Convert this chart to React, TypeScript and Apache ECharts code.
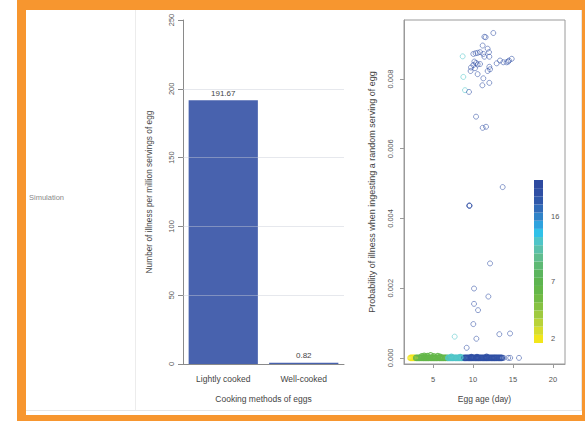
import React, { useEffect, useRef } from 'react';
import * as echarts from 'echarts';

// ---------- Bar chart data ----------
const cookingMethods = ['Lightly cooked', 'Well-cooked'];
const illnessPerMillion = [191.67, 0.82];
const barTicks = [0, 50, 100, 150, 200, 250];
const barGridLines = [50, 100, 150, 200];

// ---------- Scatter data ----------
const ageTicks = [5, 10, 15, 20];
const probTicks = [0, 0.002, 0.004, 0.006, 0.008];

// colour bar, bottom to top
const colorbarColors = [
  '#f2e61b', '#d6dd2e', '#b9d338', '#9fca3f', '#86c242', '#72bb45', '#64b749',
  '#5db44f', '#5cb55e', '#5eb974', '#60bd8e', '#5cc1aa', '#4fc5c8', '#30c1e8',
  '#2ea2de', '#3083c8', '#316bb8', '#2f58aa', '#2f4fa4', '#2e4aa0',
];
const colorbarLabels = ['2', '', '', '', '', '', '', '7', '', '', '', '', '', '', '', '16', '', '', '', ''];

// levels used for the points (index in colorbarColors)
const yellowBandAges = [2.2, 2.33, 2.48, 2.62, 2.75];
const greenBandAges = [
  2.9, 3.04, 3.2, 3.34, 3.5, 3.63, 3.78, 3.9, 4.06, 4.2, 4.35, 4.48, 4.63, 4.77,
  4.9, 5.06, 5.2, 5.35, 5.48, 5.62, 5.78, 5.9, 6.05, 6.2, 6.34, 6.5, 6.62, 6.78,
];
const cyanBandAges = [6.92, 7.05, 7.2, 7.35, 7.48, 7.62, 7.78, 7.9, 8.05, 8.2, 8.34, 8.5, 8.62, 8.78];
const blueBandAges = [
  8.95, 9.1, 9.25, 9.4, 9.55, 9.7, 9.84, 10.0, 10.14, 10.3, 10.44, 10.6, 10.72, 10.86,
  11.0, 11.15, 11.3, 11.44, 11.6, 11.72, 11.86, 12.0, 12.14, 12.3, 12.44, 12.6, 12.72,
  12.86, 13.0, 13.15, 13.3, 13.45, 13.6,
];
// [age, probability, level]
const nearZeroPoints = [
  [3.6, 0.00004, 6], [3.9, 0.00006, 6], [4.0, 0.00003, 6], [4.3, 0.00005, 6],
  [4.7, 0.00007, 6], [5.1, 0.00004, 6], [5.6, 0.00005, 6], [5.9, 0.00003, 6],
  [7.3, 0.00003, 12], [8.4, 0.00002, 12], [9.8, 0.00002, 18], [10.5, 0.00002, 18],
  [11.7, 0.00003, 18],
];
const scatteredPoints = [
  [12.54, 0.00932, 18], [11.42, 0.00921, 18], [11.58, 0.0092, 18], [11.21, 0.00896, 18],
  [11.83, 0.00887, 18], [8.71, 0.00865, 12], [10.04, 0.00872, 18], [10.33, 0.00874, 18],
  [10.58, 0.00875, 18], [10.88, 0.00877, 18], [11.29, 0.00872, 18], [12.0, 0.00877, 18],
  [12.04, 0.00864, 18], [11.42, 0.00864, 18], [10.17, 0.0085, 18], [10.38, 0.00846, 18],
  [10.58, 0.00842, 18], [10.04, 0.0084, 18], [10.88, 0.00843, 18], [9.75, 0.00833, 18],
  [10.25, 0.00831, 18], [12.04, 0.00835, 18], [12.13, 0.00828, 18], [11.83, 0.00823, 18],
  [12.96, 0.00845, 18], [13.38, 0.00853, 18], [13.79, 0.00848, 18], [14.2, 0.00848, 18],
  [14.4, 0.0085, 18], [14.5, 0.00853, 18], [14.84, 0.00858, 18], [10.58, 0.00814, 18],
  [9.7, 0.00823, 18], [11.29, 0.00802, 18], [8.79, 0.00806, 12], [12.04, 0.00789, 18],
  [11.17, 0.00782, 18], [9.0, 0.00768, 12], [9.5, 0.00763, 18], [10.38, 0.00692, 18],
  [11.21, 0.0066, 18], [11.63, 0.00663, 18], [13.71, 0.0049, 18], [9.54, 0.00437, 18],
  [9.56, 0.00437, 18], [9.55, 0.00436, 18], [12.13, 0.00271, 18], [10.13, 0.00199, 18],
  [11.92, 0.00176, 18], [10.13, 0.00155, 18], [10.63, 0.00137, 18], [10.04, 0.00097, 18],
  [7.71, 0.00061, 12], [10.42, 0.00055, 18], [9.21, 0.00029, 18], [13.29, 0.00068, 18],
  [14.63, 0.0007, 18], [13.85, 0, 18], [14.4, 0, 18], [14.65, 0, 18], [15.75, 0, 18],
];

const FONT = '"Liberation Sans", Arial, Helvetica, sans-serif';
const ORANGE = '#f7962f';

export default function App() {
  const ref = useRef<HTMLDivElement>(null);

  useEffect(() => {
    document.body.style.margin = '0';
    if (!ref.current) return;
    const chart = echarts.init(ref.current, null, { renderer: 'svg' });

    const bandData: any[] = [];
    const pushBand = (ages: number[], level: number) =>
      ages.forEach((a) => bandData.push({ value: [a, 0], itemStyle: { borderColor: colorbarColors[level] } }));
    pushBand(yellowBandAges, 0);
    pushBand(greenBandAges, 6);
    pushBand(cyanBandAges, 12);
    pushBand(blueBandAges, 18);
    nearZeroPoints.forEach((p) =>
      bandData.push({ value: [p[0], p[1]], itemStyle: { borderColor: colorbarColors[p[2]] } })
    );
    const scatterData = scatteredPoints.map((p) => ({
      value: [p[0], p[1]],
      itemStyle: { borderColor: colorbarColors[p[2]] },
    }));

    const axisGray = '#8a8a8a';
    const tickText = { fontSize: 7.5, color: '#555', fontFamily: FONT };
    const nameText = { fontSize: 8.5, color: '#444', fontFamily: FONT };

    const option: any = {
      animation: false,
      backgroundColor: '#fff',
      textStyle: { fontFamily: FONT },
      title: {
        text: 'Simulation', left: 29, top: 193, padding: 0,
        textStyle: { fontSize: 7.5, fontWeight: 'normal', color: '#8a8a8a', fontFamily: FONT },
      },
      graphic: [
        { type: 'rect', shape: { x: 17, y: 0, width: 9, height: 421 }, style: { fill: ORANGE }, silent: true },
        { type: 'rect', shape: { x: 17, y: 0, width: 568, height: 10 }, style: { fill: ORANGE }, silent: true },
        { type: 'rect', shape: { x: 582, y: 0, width: 3, height: 421 }, style: { fill: ORANGE }, silent: true },
        { type: 'rect', shape: { x: 17, y: 415, width: 568, height: 6 }, style: { fill: ORANGE }, silent: true },
        { type: 'line', shape: { x1: 135.5, y1: 10, x2: 135.5, y2: 411 }, style: { stroke: '#ececec', lineWidth: 1 }, silent: true },
        { type: 'line', shape: { x1: 26, y1: 410.5, x2: 582, y2: 410.5 }, style: { stroke: '#e6e6e6', lineWidth: 1 }, silent: true },
        { type: 'line', shape: { x1: 581.5, y1: 10, x2: 581.5, y2: 411 }, style: { stroke: '#e6e6e6', lineWidth: 1 }, silent: true },
      ],
      grid: [
        { left: 183, top: 20, width: 161, height: 344 },
        { left: 404, top: 20, width: 161, height: 344, show: true, borderColor: '#9a9a9a', borderWidth: 1, backgroundColor: 'transparent' },
        { left: 534, top: 180, width: 9, height: 163 },
      ],
      xAxis: [
        {
          gridIndex: 0, type: 'category', data: cookingMethods,
          axisLine: { lineStyle: { color: axisGray } },
          axisTick: { show: false },
          axisLabel: { fontSize: 8.5, color: '#444', margin: 10 },
          name: 'Cooking methods of eggs', nameLocation: 'middle', nameGap: 30, nameTextStyle: nameText,
        },
        {
          gridIndex: 1, type: 'value', min: 1.375, max: 21.5,
          axisLine: { show: true, onZero: false, lineStyle: { color: '#9a9a9a' } },
          axisTick: { show: true, length: 4, customValues: ageTicks, lineStyle: { color: '#9a9a9a' } },
          axisLabel: { ...tickText, margin: 11, customValues: ageTicks },
          splitLine: { show: false },
          name: 'Egg age (day)', nameLocation: 'middle', nameGap: 30, nameTextStyle: nameText,
        },
        { gridIndex: 2, type: 'value', min: 0, max: 1, show: false },
      ],
      yAxis: [
        {
          gridIndex: 0, type: 'value', min: 0, max: 250, interval: 50,
          axisLine: { show: true, lineStyle: { color: axisGray } },
          axisTick: { show: true, length: 5, lineStyle: { color: axisGray } },
          axisLabel: { ...tickText, rotate: 90, margin: 8, customValues: barTicks },
          splitLine: { show: false },
          name: 'Number of illness per million servings of egg', nameLocation: 'middle', nameGap: 30,
          nameTextStyle: { ...nameText, fontSize: 8.3 },
        },
        {
          gridIndex: 1, type: 'value', min: -0.000175, max: 0.009693,
          axisLine: { show: true, onZero: false, lineStyle: { color: '#9a9a9a' } },
          axisTick: { show: true, length: 4, customValues: probTicks, lineStyle: { color: '#9a9a9a' } },
          axisLabel: { ...tickText, rotate: 90, margin: 10, customValues: probTicks, formatter: (v: number) => v.toFixed(3) },
          splitLine: { show: false },
          name: 'Probability of illness when ingesting a random serving of egg', nameLocation: 'middle', nameGap: 28,
          nameTextStyle: { ...nameText, fontSize: 9 },
        },
        {
          gridIndex: 2, type: 'category', data: colorbarColors.map((_, i) => String(i)), position: 'right',
          axisLine: { show: false }, axisTick: { show: false },
          axisLabel: { ...tickText, interval: 0, margin: 8, formatter: (_v: string, i: number) => colorbarLabels[i] },
        },
      ],
      series: [
        {
          type: 'bar', xAxisIndex: 0, yAxisIndex: 0, data: illnessPerMillion,
          barCategoryGap: '14%',
          itemStyle: { color: '#4862ae' },
          label: {
            show: true, position: 'top', distance: 3, fontSize: 8, color: '#444',
            formatter: (p: any) => Number(p.value).toFixed(2),
          },
          markLine: {
            silent: true, symbol: ['none', 'none'], label: { show: false },
            lineStyle: { color: 'rgba(200,205,215,0.45)', width: 1, type: 'solid' },
            emphasis: { disabled: true },
            data: barGridLines.map((v) => ({ yAxis: v })),
          },
        },
        {
          type: 'scatter', xAxisIndex: 1, yAxisIndex: 1, data: bandData,
          symbol: 'circle', symbolSize: 5.5,
          itemStyle: { color: 'transparent', borderWidth: 1.2, opacity: 0.9 },
        },
        {
          type: 'scatter', xAxisIndex: 1, yAxisIndex: 1, data: scatterData,
          symbol: 'circle', symbolSize: 5,
          itemStyle: { color: 'transparent', borderWidth: 1, opacity: 0.55 },
        },
        {
          type: 'bar', xAxisIndex: 2, yAxisIndex: 2,
          data: colorbarColors.map((c) => ({ value: 1, itemStyle: { color: c } })),
          barCategoryGap: '0%', silent: true,
        },
      ],
    };

    chart.setOption(option);
    return () => chart.dispose();
  }, []);

  return <div ref={ref} style={{ width: 585, height: 421 }} />;
}
